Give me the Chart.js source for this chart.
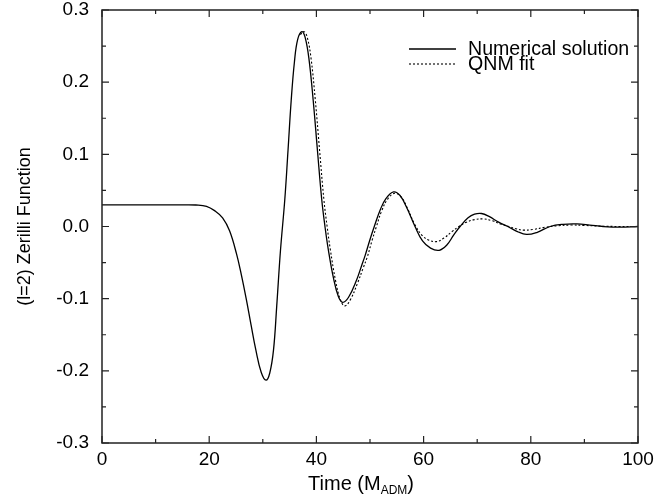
<!DOCTYPE html>
<html>
<head>
<meta charset="utf-8">
<script src="https://cdn.jsdelivr.net/npm/chart.js@4.4.0/dist/chart.umd.min.js"></script>
<style>
    html, body { margin: 0; padding: 0; background: #fff; }
    #wrap { width: 656px; height: 494px; }
</style>
</head>
<body>
<div id="wrap"><canvas id="zerilliChart" width="656" height="494"></canvas></div>
<script>
// Numerical solution (time in M_ADM)
const numTime = [0, 5, 10, 15, 17.5, 19.5, 21, 22.5, 23.8, 25.1, 26.0, 26.9, 27.8, 28.7, 29.7, 30.6, 31.3, 32.0, 32.6, 33.3,
    34.1, 34.7, 35.3, 35.9, 36.5, 37.3, 37.9, 38.6, 39.4, 40.2, 41.0, 41.6, 42.2, 43.2, 44.1, 44.9, 46.0, 47.5, 48.4, 49.1,
    50.0, 50.8, 51.9, 53.0, 54.4, 55.6, 56.8, 58.4, 59.8, 61.3, 62.9, 64.3, 65.6, 66.8, 68.3, 69.5, 70.8, 72.2, 74.0, 75.7,
    77.5, 79.2, 81.2, 83.6, 86.0, 88.6, 91.0, 93.5, 96.5, 100];
const numValues = [0.030, 0.030, 0.030, 0.030, 0.0298, 0.028, 0.022, 0.012, -0.006, -0.038, -0.067, -0.100, -0.136, -0.171, -0.202, -0.213, -0.203, -0.171, -0.110, -0.033,
    0.037, 0.105, 0.175, 0.228, 0.259, 0.270, 0.262, 0.233, 0.175, 0.105, 0.037, 0.000, -0.031, -0.072, -0.097, -0.105, -0.098, -0.074, -0.055, -0.040,
    -0.018, 0.000, 0.023, 0.039, 0.048, 0.043, 0.027, 0.000, -0.020, -0.030, -0.033, -0.026, -0.012, 0.000, 0.012, 0.017, 0.018, 0.014, 0.006, 0.000,
    -0.007, -0.011, -0.008, 0.000, 0.003, 0.0035, 0.002, 0.000, -0.001, 0.000];

// QNM fit
const fitTime = [37.0, 37.7, 38.3, 39.0, 39.8, 40.6, 41.4, 42.0, 42.6, 43.6, 44.5, 45.3, 46.3, 47.7, 48.7, 49.5, 50.4, 51.2, 52.2, 53.3,
    54.6, 55.8, 57.0, 58.4, 59.8, 61.0, 62.4, 63.8, 65.3, 66.6, 68.0, 69.5, 71.1, 72.8, 74.5, 75.9, 77.2, 78.6, 80.5, 82.7,
    85.0, 87.5, 90.0, 93.0, 96.5, 100];
const fitValues = [0.266, 0.270, 0.262, 0.233, 0.175, 0.105, 0.037, 0.000, -0.032, -0.076, -0.102, -0.110, -0.102, -0.078, -0.058, -0.042, -0.019, 0.000, 0.022, 0.038,
    0.046, 0.041, 0.025, 0.002, -0.013, -0.019, -0.021, -0.016, -0.007, 0.000, 0.006, 0.0095, 0.0105, 0.008, 0.003, 0.000, -0.003, -0.005, -0.004, -0.001,
    0.001, 0.002, 0.0015, 0.0005, 0.0, 0.0];

const seriesLabels = ['Numerical solution', 'QNM fit'];
const xTickValues = [0, 20, 40, 60, 80, 100];
const xMinorTicks = [10, 30, 50, 70, 90];
const yTickValues = [-0.3, -0.2, -0.1, 0.0, 0.1, 0.2, 0.3];
const yMinorTicks = [-0.25, -0.15, -0.05, 0.05, 0.15, 0.25];

const FONT = 'Arial, "Liberation Sans", Helvetica, sans-serif';

function toPoints(xs, ys) {
    return xs.map((x, i) => ({ x: x, y: ys[i] }));
}

// frame, inward ticks, legend and the x title with subscript
const framePlugin = {
    id: 'frame',
    afterDraw(chart) {
        const ctx = chart.ctx;
        const area = chart.chartArea;
        const xs = chart.scales.x;
        const ys = chart.scales.y;
        ctx.save();
        ctx.strokeStyle = '#222';
        ctx.lineWidth = 1.5;
        ctx.strokeRect(area.left, area.top, area.right - area.left, area.bottom - area.top);

        ctx.lineWidth = 1.2;
        ctx.beginPath();
        const xTick = (v, len) => {
            const px = xs.getPixelForValue(v);
            ctx.moveTo(px, area.bottom); ctx.lineTo(px, area.bottom - len);
            ctx.moveTo(px, area.top); ctx.lineTo(px, area.top + len);
        };
        const yTick = (v, len) => {
            const py = ys.getPixelForValue(v);
            ctx.moveTo(area.left, py); ctx.lineTo(area.left + len, py);
            ctx.moveTo(area.right, py); ctx.lineTo(area.right - len, py);
        };
        xTickValues.forEach(v => xTick(v, 7));
        xMinorTicks.forEach(v => xTick(v, 4));
        yTickValues.forEach(v => yTick(v, 7));
        yMinorTicks.forEach(v => yTick(v, 4));
        ctx.stroke();

        // legend
        const lx = area.right - 229;
        const rows = [area.top + 39, area.top + 54];
        chart.data.datasets.forEach((ds, i) => {
            ctx.beginPath();
            ctx.strokeStyle = '#000';
            ctx.lineWidth = ds.borderWidth;
            ctx.setLineDash(ds.borderDash || []);
            ctx.moveTo(lx, rows[i]);
            ctx.lineTo(lx + 47, rows[i]);
            ctx.stroke();
            ctx.setLineDash([]);
            ctx.fillStyle = '#000';
            ctx.font = '19.6px ' + FONT;
            ctx.textAlign = 'left';
            ctx.textBaseline = 'middle';
            ctx.fillText(ds.label, lx + 59, rows[i] + 1);
        });

        // x axis title: Time (M_ADM)
        const big = '20px ' + FONT;
        const small = '12px ' + FONT;
        ctx.font = big;
        const w1 = ctx.measureText('Time (M').width;
        const w3 = ctx.measureText(')').width;
        ctx.font = small;
        const w2 = ctx.measureText('ADM').width;
        let tx = (area.left + area.right) / 2 - 9 - (w1 + w2 + w3) / 2;
        const base = 490;
        ctx.textAlign = 'left';
        ctx.textBaseline = 'alphabetic';
        ctx.font = big;
        ctx.fillText('Time (M', tx, base);
        tx += w1;
        ctx.font = small;
        ctx.fillText('ADM', tx, base + 4);
        tx += w2;
        ctx.font = big;
        ctx.fillText(')', tx, base);
        ctx.restore();
    }
};

function initChart() {
    const ctx = document.getElementById('zerilliChart').getContext('2d');

    new Chart(ctx, {
        type: 'line',
        data: {
            datasets: [{
                label: seriesLabels[0],
                data: toPoints(numTime, numValues),
                borderColor: '#000',
                borderWidth: 1.3,
                pointRadius: 0,
                fill: false,
                tension: 0.4
            }, {
                label: seriesLabels[1],
                data: toPoints(fitTime, fitValues),
                borderColor: '#000',
                borderWidth: 1.1,
                borderDash: [2, 2],
                pointRadius: 0,
                fill: false,
                tension: 0.4
            }]
        },
        options: {
            responsive: false,
            animation: false,
            devicePixelRatio: 1,
            layout: { padding: { left: 0, right: 18, top: 10, bottom: 0 } },
            plugins: {
                legend: { display: false },
                tooltip: { enabled: false }
            },
            scales: {
                x: {
                    type: 'linear',
                    min: 0,
                    max: 100,
                    afterBuildTicks: scale => { scale.ticks = xTickValues.map(v => ({ value: v })); },
                    afterFit: scale => {
                        scale.height = 51;
                        scale.paddingLeft = 0;
                        scale.paddingRight = 0;
                    },
                    grid: { display: false, drawTicks: false },
                    border: { display: false },
                    ticks: {
                        color: '#000',
                        padding: 5,
                        maxRotation: 0,
                        font: { family: FONT, size: 19 },
                        callback: value => String(value)
                    }
                },
                y: {
                    type: 'linear',
                    min: -0.3,
                    max: 0.3,
                    afterBuildTicks: scale => { scale.ticks = yTickValues.map(v => ({ value: v })); },
                    afterFit: scale => {
                        scale.width = 102;
                        scale.paddingTop = 0;
                        scale.paddingBottom = 0;
                    },
                    grid: { display: false, drawTicks: false },
                    border: { display: false },
                    title: {
                        display: true,
                        text: '(l=2) Zerilli Function',
                        color: '#000',
                        padding: { top: 14, bottom: 0 },
                        font: { family: FONT, size: 18 }
                    },
                    ticks: {
                        color: '#000',
                        padding: 13,
                        font: { family: FONT, size: 19 },
                        callback: value => value.toFixed(1)
                    }
                }
            }
        },
        plugins: [framePlugin]
    });
}

document.addEventListener('DOMContentLoaded', initChart);
</script>
</body>
</html>
